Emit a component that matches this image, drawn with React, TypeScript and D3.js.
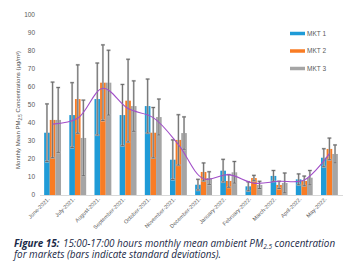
import React from "react";
import * as d3 from "d3";

const months = [
  "June-2021.", "July-2021.", "August-2021.", "September-2021.", "October-2021.", "November-2021.",
  "December-2021.", "January-2022.", "February-2022.", "March-2022.", "April-2022.", "May-2022.",
];
const seriesNames = ["MKT 1", "MKT 2", "MKT 3"];
const mkt1 = [34.6, 44.4, 53.3, 44.4, 49.4, 19.6, 5.7, 13.5, 4.8, 10.6, 8.7, 20.7];
const mkt2 = [41.7, 53.3, 62.4, 52.4, 34.6, 30.6, 12.8, 7.8, 9.4, 5.6, 7.8, 25.6];
const mkt3 = [41.7, 31.7, 62.4, 49.4, 43.3, 34.4, 9.4, 12.6, 5.6, 6.7, 9.6, 22.8];
const sd1 = [16, 18, 20, 17, 15, 11, 3, 6.3, 2.5, 3, 3, 5];
const sd2 = [21, 19, 21, 23, 14, 14, 5, 3.5, 1.5, 2, 2.7, 6];
const sd3 = [18, 21, 18, 14, 10, 9, 3.5, 6, 2, 5.5, 4, 5];
const avgLine = [39.4, 42.6, 59.3, 48, 43, 28, 9, 11.3, 6.6, 7.6, 8.3, 23];
const yTicks = [0, 10, 20, 30, 40, 50, 60, 70, 80, 90, 100];
const colors = ["#1f9bd7", "#f97c24", "#a5a5a5"];

export default function App() {
  const W = 359, H = 268;
  const x = d3.scaleBand<string>().domain(months).range([40, 342]).paddingInner(0.33).paddingOuter(0.165);
  const y = d3.scaleLinear().domain([0, 100]).range([195, 15]);
  const sub = d3.scaleBand<number>().domain([0, 1, 2]).range([0, x.bandwidth()]);
  const vals = [mkt1, mkt2, mkt3];
  const sds = [sd1, sd2, sd3];
  const cx = (m: string) => (x(m) as number) + x.bandwidth() / 2;
  const line = d3
    .line<number>()
    .x((_, i) => cx(months[i]))
    .y((d) => y(d))
    .curve(d3.curveCatmullRom.alpha(0.5));
  const font = "'Liberation Sans', Arial, sans-serif";
  const capFont = "'Open Sans', sans-serif";
  return (
    <svg width={W} height={H} style={{ position: "absolute", left: 0, top: 0 }}>
      <rect width={W} height={H} fill="#fff" />
      {yTicks.map((t) => (
        <text key={t} x={35} y={y(t) + 2.3} textAnchor="end" fontSize={6.5} fill="#595959" fontFamily={font}>
          {t}
        </text>
      ))}
      <line x1={40} x2={343} y1={195.5} y2={195.5} stroke="#d9d9d9" strokeWidth={1} />
      <text
        transform={`translate(20,110) rotate(-90)`}
        textAnchor="middle"
        fontSize={6}
        fill="#505050"
        fontFamily={font}
      >
        Monthly Mean PM<tspan fontSize={4.5} dy={1.5}>2.5</tspan>
        <tspan dy={-1.5}> Concentrations (µg/m³)</tspan>
      </text>
      {months.map((m, i) =>
        vals.map((s, k) => {
          const bx = (x(m) as number) + (sub(k) as number);
          return (
            <rect key={`${m}-${k}`} x={bx} y={y(s[i])} width={sub.bandwidth()} height={y(0) - y(s[i])} fill={colors[k]} />
          );
        })
      )}
      {months.map((m, i) =>
        vals.map((s, k) => {
          const ex = (x(m) as number) + (sub(k) as number) + sub.bandwidth() / 2;
          const top = y(s[i] + sds[k][i]);
          const bot = y(Math.max(0, s[i] - sds[k][i]));
          return (
            <g key={`e-${m}-${k}`}>
              <line x1={ex} x2={ex} y1={top} y2={bot} stroke="#c8c8c8" strokeWidth={2} />
              <line x1={ex - 2} x2={ex + 2} y1={top} y2={top} stroke="#c8c8c8" strokeWidth={2} />
              <line x1={ex - 2} x2={ex + 2} y1={bot} y2={bot} stroke="#c8c8c8" strokeWidth={2} />
              <line x1={ex} x2={ex} y1={top} y2={bot} stroke="#595959" strokeWidth={0.8} />
              <line x1={ex - 1.8} x2={ex + 1.8} y1={top} y2={top} stroke="#595959" strokeWidth={0.8} />
              <line x1={ex - 1.8} x2={ex + 1.8} y1={bot} y2={bot} stroke="#595959" strokeWidth={0.8} />
            </g>
          );
        })
      )}
      <path d={line(avgLine) || ""} fill="none" stroke="#a24fc9" strokeWidth={1.1} />
      {months.map((m) => (
        <text
          key={m}
          transform={`translate(${cx(m) - 2.5},199.5) rotate(-45)`}
          textAnchor="end"
          fontSize={5.5}
          fill="#595959"
          fontFamily={font}
        >
          {m}
        </text>
      ))}
      {seriesNames.map((n, k) => (
        <g key={n}>
          <line x1={290} x2={305} y1={33.5 + k * 17.5} y2={33.5 + k * 17.5} stroke={colors[k]} strokeWidth={3.5} />
          <text x={307} y={35.7 + k * 17.5} fontSize={6.5} fill="#595959" fontFamily={font}>
            {n}
          </text>
        </g>
      ))}
      <text x={14} y={247} fontSize={9.9} fill="#1b2a47" fontFamily={capFont} fontStyle="italic">
        <tspan fontWeight="bold">Figure 15:</tspan>
        <tspan dx={1}> 15:00-17:00 hours monthly mean ambient PM</tspan>
        <tspan fontSize={6.5} dy={2}>2.5</tspan>
        <tspan dy={-2}> concentration</tspan>
      </text>
      <text x={14} y={257.5} fontSize={9.9} fill="#1b2a47" fontFamily={capFont} fontStyle="italic">
        for markets (bars indicate standard deviations).
      </text>
    </svg>
  );
}
